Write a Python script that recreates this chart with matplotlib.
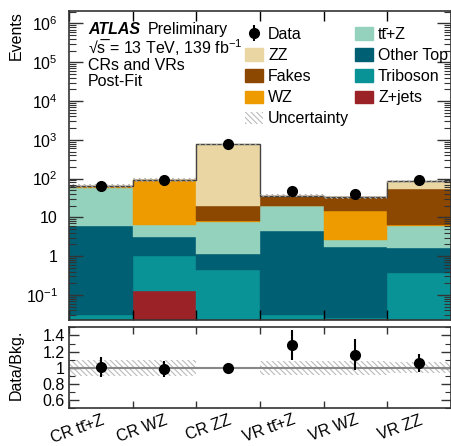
import numpy as np
import matplotlib
matplotlib.use("Agg")
import matplotlib.pyplot as plt
from matplotlib.ticker import FixedLocator, LogLocator, MultipleLocator, NullFormatter, FuncFormatter
from matplotlib.patches import Patch

plt.rcParams["font.family"] = ["Liberation Sans", "DejaVu Sans"]
plt.rcParams["mathtext.fontset"] = "custom"
plt.rcParams["mathtext.rm"] = "Liberation Sans"
plt.rcParams["mathtext.it"] = "Liberation Sans:italic"
plt.rcParams["mathtext.bf"] = "Liberation Sans:bold"
plt.rcParams["hatch.linewidth"] = 0.8

TTZ = "tt\u0304+Z"

# regions and post-fit yields per process
regions = ["CR " + TTZ, "CR WZ", "CR ZZ", "VR " + TTZ, "VR WZ", "VR ZZ"]

zjets    = [0.0, 0.13, 0.0, 0.0, 0.024, 0.0]
triboson = [0.03, 0.91, 0.44, 0.03, 0.002, 0.36]
othertop = [6.1, 2.1, 0.71, 4.55, 1.73, 1.29]
ttz      = [52.4, 3.1, 6.45, 15.0, 0.8, 4.2]
wz       = [3.0, 84.0, 0.5, 0.3, 11.75, 0.5]
fakes    = [3.5, 2.5, 11.5, 15.5, 18.6, 46.6]
zz       = [0.4, 0.8, 740.0, 1.2, 0.6, 32.0]

data     = [66, 92, 760, 47, 39, 90]
unc_rel  = [0.10, 0.10, 0.01, 0.09, 0.09, 0.07]

# stacking order, bottom to top
stack = [
    ("Z+jets",   zjets,    "#9b2226"),
    ("Triboson", triboson, "#0a9396"),
    ("Other Top", othertop, "#005f73"),
    (TTZ,        ttz,      "#94d2bd"),
    ("WZ",       wz,       "#ee9b00"),
    ("Fakes",    fakes,    "#8c4700"),
    ("ZZ",       zz,       "#e9d6a3"),
]

nbins = len(regions)
edges = np.arange(nbins + 1)
centers = edges[:-1] + 0.5
data = np.array(data, dtype=float)
data_err = np.sqrt(data)
unc_rel = np.array(unc_rel)

fig = plt.figure(figsize=(4.52, 4.46), dpi=100)
W, H = 452.0, 446.0
x0, x1 = 69, 451
ax = fig.add_axes([x0 / W, 1 - 320 / H, (x1 - x0) / W, (320 - 11) / H])
rax = fig.add_axes([x0 / W, 1 - 408.3 / H, (x1 - x0) / W, (408.3 - 327.3) / H])

frame = "#333333"
hatch = "\\\\\\\\\\\\"

# stacked backgrounds
bottom = np.zeros(nbins)
for name, vals, col in stack:
    vals = np.array(vals)
    ax.bar(centers, vals, width=1.0, bottom=bottom, color=col,
           edgecolor=col, linewidth=0.3, log=True)
    bottom = bottom + vals
total = bottom

ax.stairs(total, edges, color="#444444", linewidth=1.0, baseline=None)

# uncertainty band on the total
ax.bar(centers, 2 * unc_rel * total, width=1.0, bottom=total * (1 - unc_rel),
       fill=False, hatch=hatch, edgecolor="#aaaaaa", linewidth=0)

h_data = ax.errorbar(centers, data, yerr=data_err, fmt="o", color="black",
                     markersize=7, elinewidth=1.5, capsize=0, zorder=5)

ax.set_yscale("log")
ax.set_xlim(0, nbins)
ax.set_ylim(0.0226, 2.1e6)


def log_label(v, pos):
    e = int(round(np.log10(v)))
    if e == 0:
        return "1"
    if e == 1:
        return "10"
    return r"$10^{%d}$" % e


ax.yaxis.set_major_locator(FixedLocator([10.0 ** e for e in range(-1, 7)]))
ax.yaxis.set_major_formatter(FuncFormatter(log_label))
ax.yaxis.set_minor_locator(LogLocator(base=10, subs=np.arange(2, 10), numticks=50))
ax.yaxis.set_minor_formatter(NullFormatter())
ax.xaxis.set_major_locator(FixedLocator(edges))
ax.xaxis.set_major_formatter(NullFormatter())
ax.tick_params(axis="y", which="major", direction="in", length=10, width=1,
               right=True, labelsize=11.5, pad=8, colors=frame, labelcolor="black")
ax.tick_params(axis="y", which="minor", direction="in", length=5, width=0.8,
               right=True, colors=frame)
ax.tick_params(axis="x", which="major", direction="in", length=7, width=1,
               top=True, colors="black")
for sp in ax.spines.values():
    sp.set_color(frame)
    sp.set_linewidth(1.2)

ax.set_ylabel("Events", fontsize=11.5, loc="top")
ax.yaxis.set_label_coords(-0.118, 1.0)

# ATLAS label block
tf = ax.transAxes
lx = (88 - x0) / (x1 - x0)


def row(ypx):
    return 1 - (ypx - 11) / 309


ax.text(lx, row(34), "ATLAS", fontsize=11.5, fontweight="bold",
        fontstyle="italic", transform=tf, va="baseline")
ax.text((148 - x0) / (x1 - x0), row(34), "Preliminary", fontsize=11.5,
        transform=tf, va="baseline")
ax.text(lx, row(54), "\u221as\u0305 = 13 TeV, 139 fb$^{-1}$", fontsize=11.5,
        transform=tf, va="baseline")
ax.text(lx, row(70), "CRs and VRs", fontsize=11.5, transform=tf, va="baseline")
ax.text(lx, row(86), "Post-Fit", fontsize=11.5, transform=tf, va="baseline")

# legend
h_unc = Patch(facecolor="white", edgecolor="#bbbbbb", hatch=hatch, linewidth=0)
col = {n: c for n, v, c in stack}
handles = [h_data,
           Patch(color=col["ZZ"]), Patch(color=col["Fakes"]), Patch(color=col["WZ"]),
           h_unc,
           Patch(color=col[TTZ]), Patch(color=col["Other Top"]),
           Patch(color=col["Triboson"]), Patch(color=col["Z+jets"])]
labels = ["Data", "ZZ", "Fakes", "WZ", "Uncertainty",
          TTZ, "Other Top", "Triboson", "Z+jets"]
leg = ax.legend(handles, labels, ncol=2, frameon=False, fontsize=11.5,
                loc="upper left", bbox_to_anchor=((245 - x0) / (x1 - x0), row(27)),
                handlelength=1.15, handleheight=0.8, handletextpad=0.3,
                labelspacing=0.38, columnspacing=0.35, borderpad=0, borderaxespad=0)

# ratio panel
ratio = data / total
ratio_err = data_err / total
rax.bar(centers, 2 * unc_rel, width=1.0, bottom=1 - unc_rel, fill=False,
        hatch=hatch, edgecolor="#bbbbbb", linewidth=0)
rax.axhline(1.0, color="#888888", linewidth=1.5)
rax.errorbar(centers, ratio, yerr=ratio_err, fmt="o", color="black",
             markersize=7, elinewidth=1.5, capsize=0, zorder=5)
rax.set_xlim(0, nbins)
rax.set_ylim(0.5, 1.5)
rax.yaxis.set_major_locator(FixedLocator([0.6, 0.8, 1.0, 1.2, 1.4]))
rax.yaxis.set_major_formatter(FuncFormatter(lambda v, p: "%g" % v))
rax.yaxis.set_minor_locator(MultipleLocator(0.1))
rax.set_xticks(centers, regions)
rax.xaxis.set_minor_locator(FixedLocator(edges))
rax.tick_params(axis="x", which="major", length=0, labelsize=11.5, pad=3)
rax.tick_params(axis="x", which="minor", direction="in", length=5, width=1,
                top=True, colors=frame)
rax.tick_params(axis="y", which="major", direction="in", length=7, width=1,
                right=True, labelsize=11.5, pad=3, colors=frame, labelcolor="black")
rax.tick_params(axis="y", which="minor", direction="in", length=4, width=0.8,
                right=True, colors=frame)
for lab in rax.get_xticklabels():
    lab.set_rotation(20)
    lab.set_ha("right")
    lab.set_rotation_mode("anchor")
for sp in rax.spines.values():
    sp.set_color(frame)
    sp.set_linewidth(1.2)
rax.set_ylabel("Data/Bkg.", fontsize=11.5, loc="top")
rax.yaxis.set_label_coords(-0.118, 0.97)

fig.savefig("out.png", dpi=100)
